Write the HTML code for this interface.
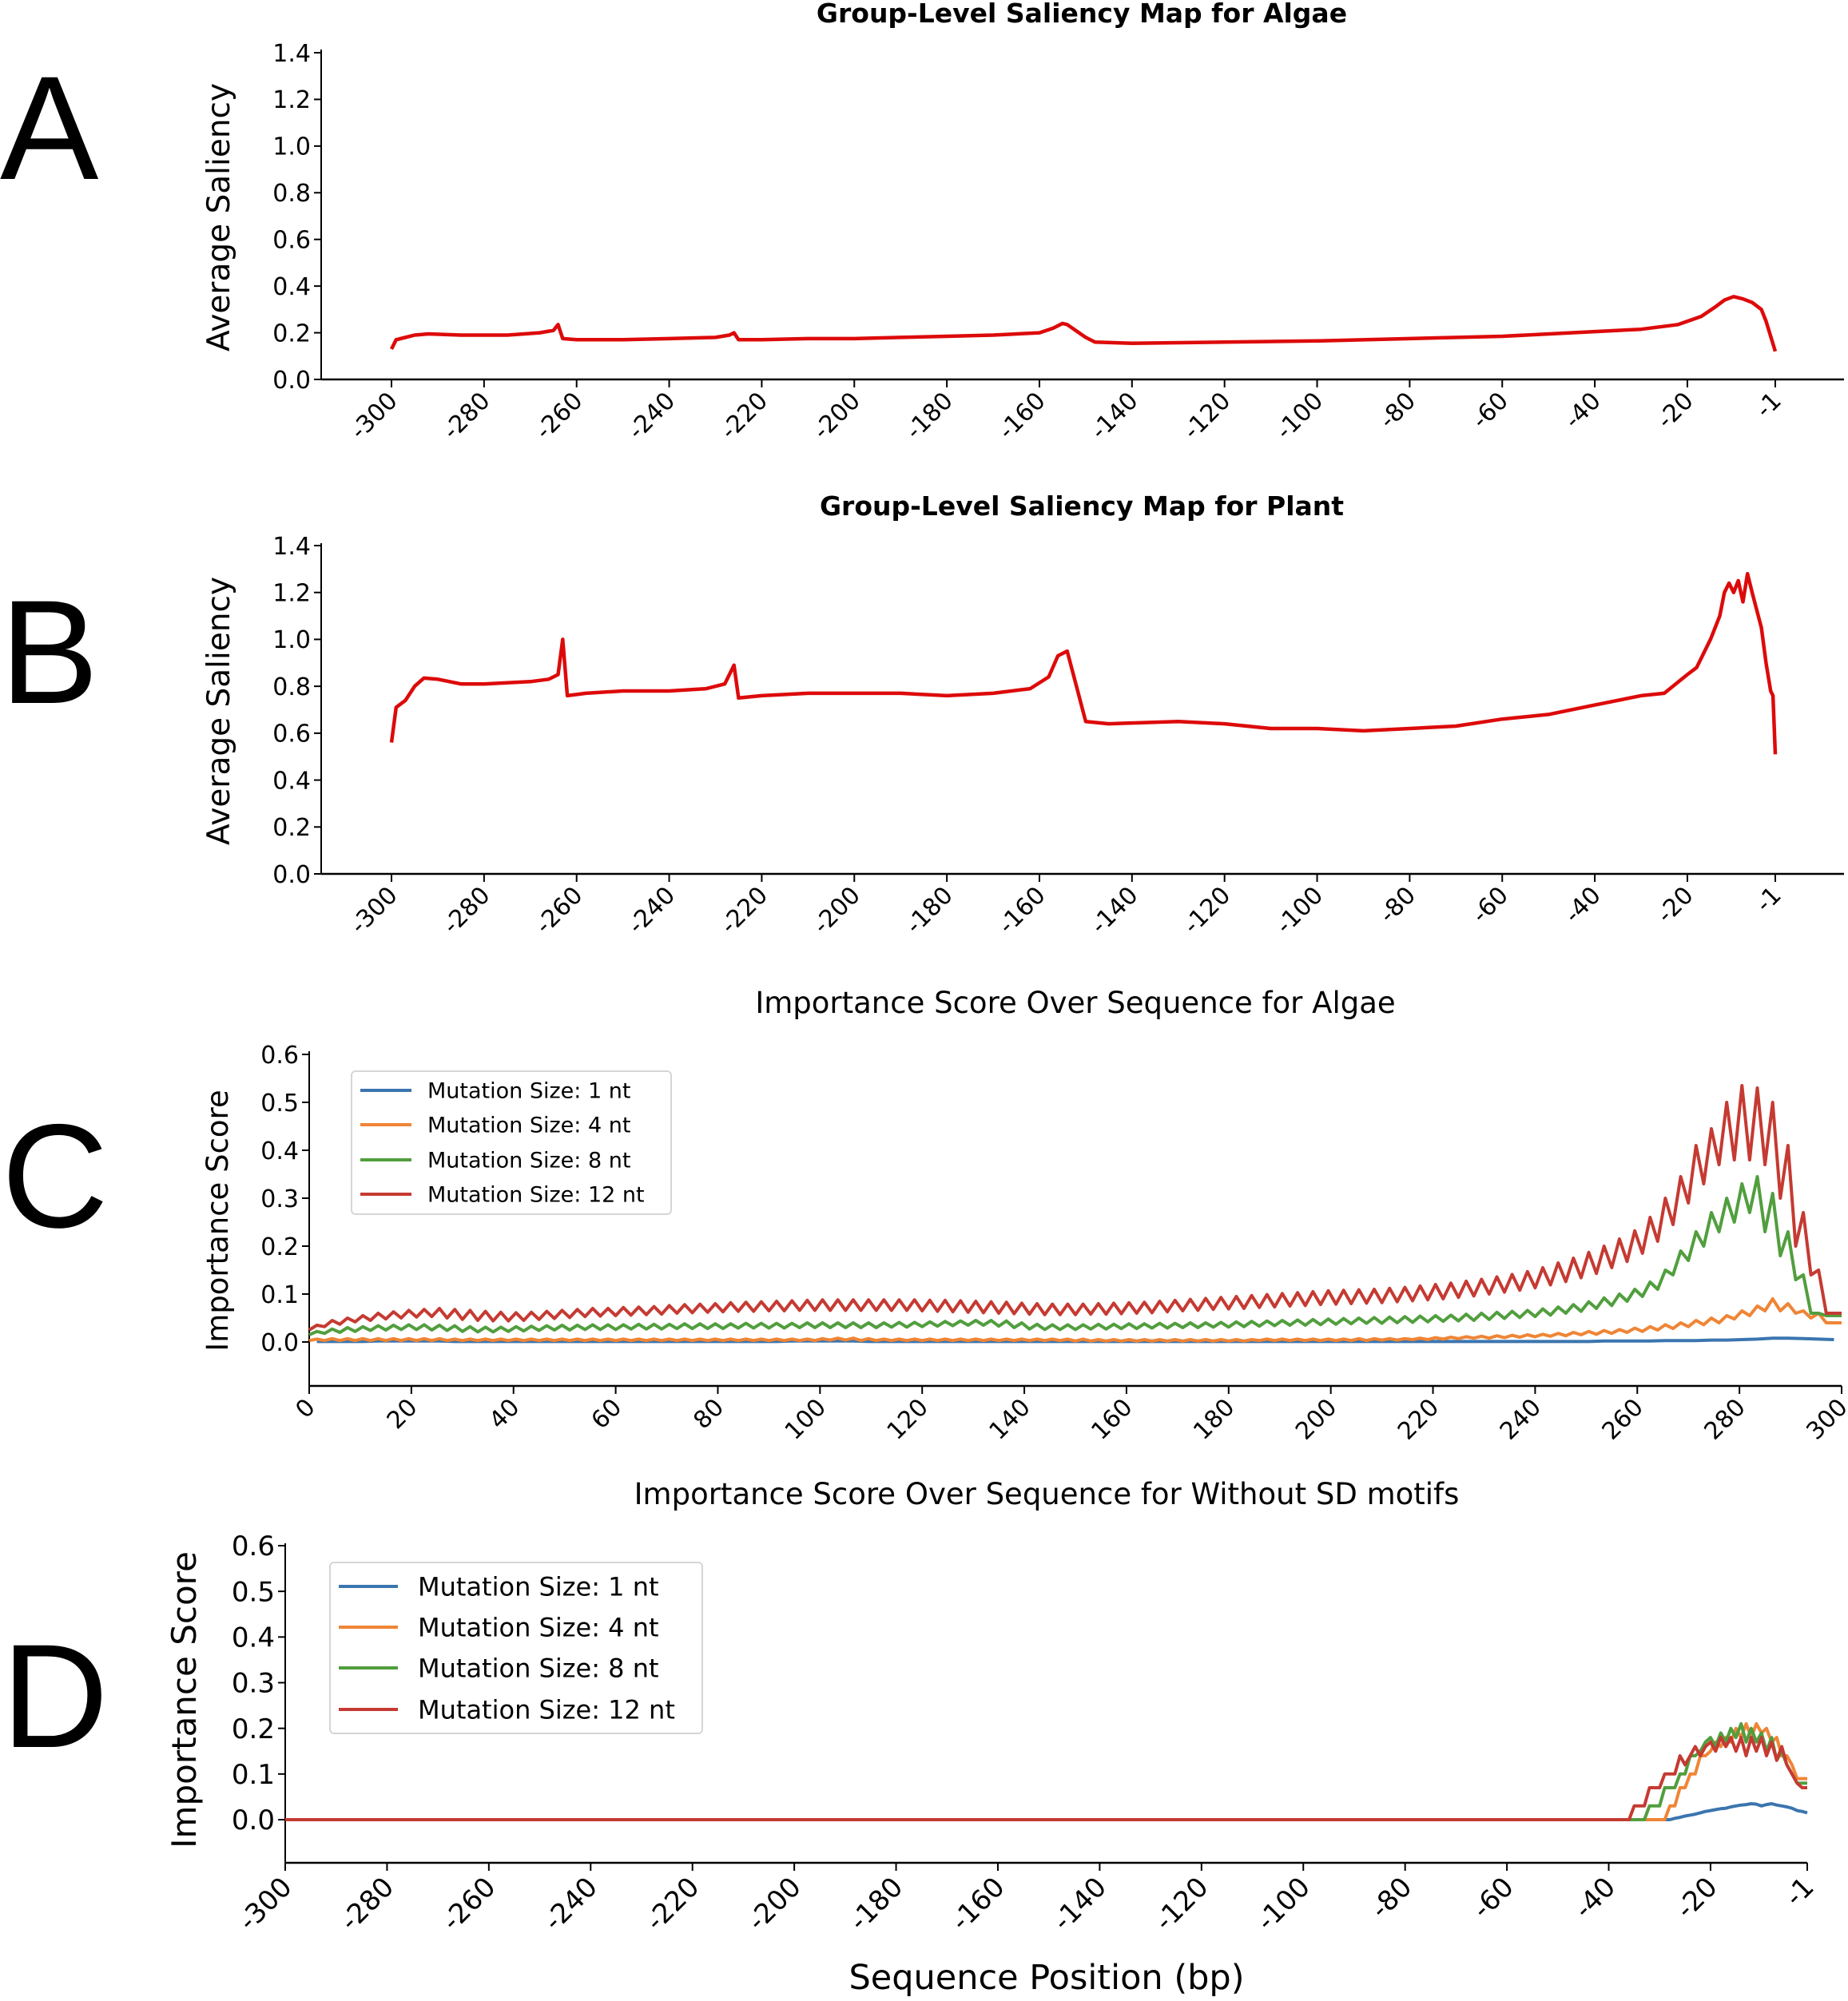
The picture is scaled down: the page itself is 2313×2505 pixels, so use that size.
<!DOCTYPE html>
<html><head><meta charset="utf-8"><style>
body{margin:0;background:#fff}
svg{display:block;font-family:"DejaVu Sans","Liberation Sans",sans-serif}
</style></head><body>
<svg id="fig" width="2313" height="2505" viewBox="0 0 2313 2505" xmlns="http://www.w3.org/2000/svg">
<g font-size="185" fill="#000" font-family="Liberation Sans, sans-serif">
<text x="0" y="224">A</text>
<text x="0" y="880">B</text>
<text x="2" y="1536">C</text>
<text x="2" y="2187">D</text>
</g>
</svg>
<script>
// ---- Panel A data ----
const posA=[-300,-299,-295,-292,-285,-275,-268,-265,-264,-263,-260,-250,-240,-230,-227,-226,-225,-220,-210,-200,-190,-180,-170,-160,-157,-155,-154,-150,-148,-140,-120,-100,-80,-60,-40,-30,-22,-17,-14,-12,-10,-8,-6,-4,-3,-1];
const valA=[.13,.17,.19,.195,.19,.19,.2,.21,.235,.175,.17,.17,.175,.18,.19,.2,.17,.17,.175,.175,.18,.185,.19,.2,.22,.24,.235,.18,.16,.155,.16,.165,.175,.185,.205,.215,.235,.27,.31,.34,.355,.345,.33,.3,.25,.12];
// ---- Panel B data ----
const posB=[-300,-299,-297,-295,-293,-290,-285,-280,-275,-270,-266,-264,-263,-262,-258,-250,-240,-232,-228,-226,-225,-220,-210,-200,-190,-180,-170,-162,-158,-156,-154,-152,-150,-145,-130,-120,-110,-100,-90,-80,-70,-60,-50,-40,-30,-25,-20,-18,-15,-13,-12,-11,-10,-9,-8,-7,-6,-4,-3,-2,-1.5,-1];
const valB=[.56,.71,.74,.8,.835,.83,.81,.81,.815,.82,.83,.85,1.0,.76,.77,.78,.78,.79,.81,.89,.75,.76,.77,.77,.77,.76,.77,.79,.84,.93,.95,.8,.65,.64,.65,.64,.62,.62,.61,.62,.63,.66,.68,.72,.76,.77,.85,.88,1.0,1.1,1.2,1.24,1.2,1.25,1.16,1.28,1.2,1.05,.9,.78,.76,.51];
const ticksAB=[-300,-280,-260,-240,-220,-200,-180,-160,-140,-120,-100,-80,-60,-40,-20,-1];
const yTicksAB=[0,0.2,0.4,0.6,0.8,1.0,1.2,1.4];
// ---- Panel C data (per 3-nt period: peak / trough) ----
const redPk=[.035,.045,.05,.055,.06,.063,.066,.068,.07,.068,.066,.064,.062,.061,.062,.064,.066,.068,.07,.07,.072,.073,.074,.076,.078,.079,.08,.082,.083,.084,.085,.086,.087,.088,.088,.088,.088,.088,.088,.088,.087,.087,.086,.085,.084,.083,.081,.08,.079,.079,.079,.08,.081,.082,.083,.085,.087,.089,.091,.093,.095,.097,.099,.101,.103,.105,.107,.108,.109,.11,.112,.114,.117,.12,.123,.127,.131,.136,.141,.147,.155,.165,.175,.187,.2,.215,.232,.26,.3,.345,.41,.445,.5,.535,.53,.5,.41,.27,.15,.06];
const redTr=[.025,.032,.037,.042,.045,.048,.05,.052,.053,.05,.047,.045,.044,.044,.045,.047,.049,.051,.053,.054,.055,.056,.057,.058,.06,.061,.062,.063,.064,.064,.065,.065,.066,.066,.066,.066,.066,.066,.066,.066,.065,.064,.063,.062,.061,.06,.059,.058,.057,.057,.057,.058,.058,.059,.06,.061,.063,.065,.066,.068,.069,.07,.072,.073,.075,.076,.078,.079,.08,.081,.082,.084,.086,.088,.09,.093,.096,.1,.104,.108,.113,.119,.126,.134,.143,.155,.168,.185,.21,.245,.29,.33,.37,.38,.38,.37,.3,.2,.14,.06];
const grnPk=[.022,.027,.03,.032,.034,.035,.036,.036,.035,.034,.032,.031,.031,.032,.033,.034,.035,.035,.036,.036,.036,.037,.037,.037,.038,.038,.038,.038,.039,.039,.039,.039,.04,.04,.04,.04,.04,.04,.041,.041,.042,.043,.044,.045,.045,.044,.04,.037,.036,.036,.036,.037,.037,.038,.038,.039,.039,.04,.04,.041,.042,.043,.044,.045,.046,.047,.048,.049,.05,.051,.052,.053,.054,.055,.056,.058,.06,.062,.064,.066,.069,.073,.078,.084,.092,.1,.11,.125,.15,.19,.23,.27,.3,.33,.345,.31,.23,.14,.06,.055];
const grnTr=[.015,.018,.02,.022,.024,.025,.026,.026,.025,.024,.022,.021,.021,.022,.023,.024,.025,.025,.026,.026,.026,.027,.027,.027,.028,.028,.028,.028,.029,.029,.029,.029,.03,.03,.03,.03,.03,.03,.031,.031,.032,.033,.034,.035,.035,.033,.03,.027,.026,.026,.026,.027,.027,.028,.028,.029,.029,.03,.03,.031,.031,.032,.033,.034,.035,.035,.036,.037,.038,.039,.039,.04,.041,.042,.043,.044,.045,.047,.049,.051,.053,.056,.06,.064,.07,.076,.085,.095,.11,.14,.17,.2,.23,.25,.27,.23,.18,.13,.06,.055];
const orgPk=[.006,.007,.007,.007,.007,.007,.007,.007,.007,.006,.006,.006,.006,.006,.006,.006,.006,.006,.006,.006,.006,.006,.006,.006,.006,.006,.006,.006,.006,.006,.006,.006,.006,.007,.008,.008,.007,.006,.006,.006,.006,.006,.006,.006,.006,.006,.006,.006,.006,.006,.006,.005,.005,.005,.005,.005,.005,.005,.005,.005,.005,.005,.006,.006,.006,.006,.006,.006,.007,.007,.007,.007,.008,.009,.01,.011,.012,.013,.014,.015,.016,.018,.02,.022,.024,.026,.029,.032,.036,.04,.045,.05,.055,.065,.075,.09,.08,.065,.06,.04];
const orgTr=[.003,.003,.003,.003,.003,.003,.003,.003,.003,.003,.003,.003,.003,.003,.003,.003,.003,.003,.003,.003,.003,.003,.003,.003,.003,.003,.003,.003,.003,.003,.003,.003,.003,.003,.004,.004,.003,.003,.003,.003,.003,.003,.003,.003,.003,.003,.003,.003,.003,.003,.002,.002,.002,.002,.002,.002,.002,.002,.002,.002,.002,.002,.003,.003,.003,.003,.003,.003,.003,.003,.004,.004,.005,.005,.006,.007,.008,.008,.009,.01,.011,.012,.013,.015,.016,.018,.02,.022,.025,.028,.032,.036,.04,.048,.055,.065,.065,.06,.05,.04];
const bluC=[.001,.001,.001,.001,.002,.002,.002,.002,.002,.001,.001,.001,.001,.001,.001,.001,.001,.001,.001,.001,.001,.001,.001,.001,.001,.001,.001,.001,.001,.001,.001,.002,.002,.002,.002,.002,.001,.001,.001,.001,.001,.001,.001,.001,.001,.001,.001,.001,.001,.001,.001,.001,.001,.001,.001,.001,.001,.001,.001,.001,.001,.001,.001,.001,.001,.001,.001,.001,.001,.001,.001,.001,.001,.001,.001,.001,.001,.001,.001,.001,.001,.001,.001,.001,.002,.002,.002,.002,.003,.003,.003,.004,.004,.005,.006,.008,.008,.007,.006,.005];
const ticksC=[0,20,40,60,80,100,120,140,160,180,200,220,240,260,280,300];
const yTicksCD=[0,0.1,0.2,0.3,0.4,0.5,0.6];
// ---- Panel D data (positions -40..-1; zero before) ----
const posD=[-40,-39,-38,-37,-36,-35,-34,-33,-32,-31,-30,-29,-28,-27,-26,-25,-24,-23,-22,-21,-20,-19,-18,-17,-16,-15,-14,-13,-12,-11,-10,-9,-8,-7,-6,-5,-4,-3,-2,-1];
const redD=[0,0,0,0,0,.03,.03,.03,.07,.07,.07,.1,.1,.1,.14,.12,.14,.16,.14,.16,.17,.15,.18,.16,.18,.15,.18,.14,.18,.15,.18,.14,.17,.13,.16,.12,.1,.08,.07,.07];
const grnD=[0,0,0,0,0,0,0,0,.03,.03,.03,.07,.07,.07,.1,.1,.14,.14,.15,.17,.18,.16,.19,.17,.2,.18,.21,.17,.2,.17,.19,.15,.18,.13,.15,.12,.1,.08,.08,.08];
const orgD=[0,0,0,0,0,0,0,0,0,0,0,0,.03,.03,.07,.07,.1,.1,.14,.14,.15,.17,.16,.18,.17,.2,.18,.21,.18,.21,.19,.2,.17,.18,.14,.14,.12,.09,.09,.09];
const bluD=[0,0,0,0,0,0,0,0,0,0,0,0,0,.003,.005,.008,.01,.012,.015,.018,.02,.022,.024,.025,.028,.03,.032,.033,.035,.034,.03,.033,.035,.032,.03,.028,.025,.02,.018,.015];
const ticksD=[-300,-280,-260,-240,-220,-200,-180,-160,-140,-120,-100,-80,-60,-40,-20,-1];

const NS='http://www.w3.org/2000/svg';
const svg=document.getElementById('fig');
function el(tag,attrs,parent){const e=document.createElementNS(NS,tag);for(const k in attrs)e.setAttribute(k,attrs[k]);(parent||svg).appendChild(e);return e;}
function lin(d0,d1,r0,r1){return v=>r0+(v-d0)*(r1-r0)/(d1-d0);}
const colors={b:'#3b75af',o:'#ef8536',g:'#519e3e',r:'#c53a32'};

function axes(o){
  const g=el('g',{});
  
  
  const l=el('line',{x1:o.left,y1:o.top,x2:o.left,y2:o.bottom,stroke:'#000','stroke-width':2},g);
  
  
  const b=el('line',{x1:o.left,y1:o.bottom,x2:o.right,y2:o.bottom,stroke:'#000','stroke-width':2.5},g);
  
  
  o.yTicks.forEach(v=>{
    const y=o.ys(v);
    el('line',{x1:o.left-9,y1:y,x2:o.left,y2:y,stroke:'#000','stroke-width':2},g);
    const t=el('text',{x:o.left-13,y:y+o.tfs*0.36,'text-anchor':'end','font-size':o.tfs},g);
    t.textContent=v.toFixed(1);
    
    
  });
  o.xTicks.forEach(v=>{
    const x=o.xs(v);
    el('line',{x1:x,y1:o.bottom,x2:x,y2:o.bottom+10,stroke:'#000','stroke-width':2},g);
    const t=el('text',{x:0,y:0,'text-anchor':'end','font-size':o.tfs,transform:`translate(${x+o.tfs*0.3},${o.bottom+o.tfs*0.95}) rotate(-45)`},g);
    t.textContent=String(v);
    
    
  });
  const yl=el('text',{x:0,y:0,'text-anchor':'middle','font-size':o.yfs,transform:`translate(${o.ylx},${o.yly}) rotate(-90)`},g);
  yl.textContent=o.ylabel;
  
  
  const ti=el('text',{x:o.tx,y:o.ty,'text-anchor':'middle','font-size':o.tifs,'font-weight':o.bold?'bold':'normal'},g);
  ti.textContent=o.title;
  
  
  return g;
}
function line(g,xsA,ysA,xs,ys,color,w,name){
  const p=el('polyline',{points:xsA.map((x,i)=>xs(x).toFixed(1)+','+ys(ysA[i]).toFixed(1)).join(' '),fill:'none',stroke:color,'stroke-width':w,'stroke-linejoin':'round'},g);
  
  
}
function legend(g,x,y,w,h,rows,lx1,lx2,tx,fs){
  const lg=el('g',{},g);
  
  
  el('rect',{x,y,width:w,height:h,rx:5,fill:'#fff',stroke:'#d6d6d6','stroke-width':2},lg);
  const labels=['Mutation Size: 1 nt','Mutation Size: 4 nt','Mutation Size: 8 nt','Mutation Size: 12 nt'];
  const cs=[colors.b,colors.o,colors.g,colors.r];
  rows.forEach((ry,i)=>{
    const e=el('g',{},lg);
    
    
    el('line',{x1:lx1,y1:ry,x2:lx2,y2:ry,stroke:cs[i],'stroke-width':4},e);
    const t=el('text',{x:tx,y:ry+fs*0.36,'font-size':fs},e);
    t.textContent=labels[i];
  });
}

// Panel A
{const xs=lin(-300,-1,490,2222), ys=lin(0,1.4,475,66);
 const g=axes({name:'panel-a-saliency-algae',left:402,right:2308,top:62,bottom:475,xs,ys,yTicks:yTicksAB,xTicks:ticksAB,tfs:30,yfs:39,ylx:287,yly:272,ylabel:'Average Saliency',title:'Group-Level Saliency Map for Algae',tx:1354,ty:28,tifs:33,bold:true});
 line(g,posA,valA,xs,ys,'#dd0a0a',4.5,'saliency-line-algae');}
// Panel B
{const xs=lin(-300,-1,490,2222), ys=lin(0,1.4,1094,683);
 const g=axes({name:'panel-b-saliency-plant',left:402,right:2308,top:680,bottom:1094,xs,ys,yTicks:yTicksAB,xTicks:ticksAB,tfs:30,yfs:39,ylx:287,yly:890,ylabel:'Average Saliency',title:'Group-Level Saliency Map for Plant',tx:1354,ty:645,tifs:33,bold:true});
 line(g,posB,valB,xs,ys,'#dd0a0a',4.5,'saliency-line-plant');}
// Panel C
{const xs=lin(0,300,387,2305), ys=lin(0,0.6,1680,1320);
 const g=axes({name:'panel-c-importance-algae',left:387,right:2305,top:1316,bottom:1735,xs,ys,yTicks:yTicksCD,xTicks:ticksC,tfs:30,yfs:37,ylx:285,yly:1528,ylabel:'Importance Score',title:'Importance Score Over Sequence for Algae',tx:1346,ty:1268,tifs:37,bold:false});
 function saw(pk,tr){const X=[],Y=[];pk.forEach((v,i)=>{X.push(i*3);Y.push(tr[i]);X.push(i*3+1.5);Y.push(v);});X.push(300);Y.push(tr[tr.length-1]);return [X,Y];}
 const bx=bluC.map((v,i)=>i*3+1.5);
 line(g,bx,bluC,xs,ys,colors.b,4,'line-1nt');
 let s=saw(orgPk,orgTr); line(g,s[0],s[1],xs,ys,colors.o,4,'line-4nt');
 s=saw(grnPk,grnTr); line(g,s[0],s[1],xs,ys,colors.g,4,'line-8nt');
 s=saw(redPk,redTr); line(g,s[0],s[1],xs,ys,colors.r,4,'line-12nt');
 legend(g,440,1341,400,179,[1365,1408,1452,1495],451,515,535,27);}
// Panel D
{const xs=lin(-300,-1,357,2262), ys=lin(0,0.6,2278,1935);
 const g=axes({name:'panel-d-importance-no-sd',left:357,right:2262,top:1932,bottom:2332,xs,ys,yTicks:yTicksCD,xTicks:ticksD,tfs:34,yfs:42,ylx:245,yly:2128,ylabel:'Importance Score',title:'Importance Score Over Sequence for Without SD motifs',tx:1310,ty:1883,tifs:37,bold:false});
 const full=a=>[[-300].concat(posD),[0].concat(a)];
 let s=full(bluD); line(g,s[0],s[1],xs,ys,colors.b,4,'line-1nt');
 s=full(orgD); line(g,s[0],s[1],xs,ys,colors.o,4,'line-4nt');
 s=full(grnD); line(g,s[0],s[1],xs,ys,colors.g,4,'line-8nt');
 s=full(redD); line(g,s[0],s[1],xs,ys,colors.r,4,'line-12nt');
 legend(g,413,1956,466,214,[1986,2037,2088,2140],424,498,523,32);
 const xl=el('text',{x:1310,y:2490,'text-anchor':'middle','font-size':43});
 xl.textContent='Sequence Position (bp)';
 
 }
</script>
</body></html>
